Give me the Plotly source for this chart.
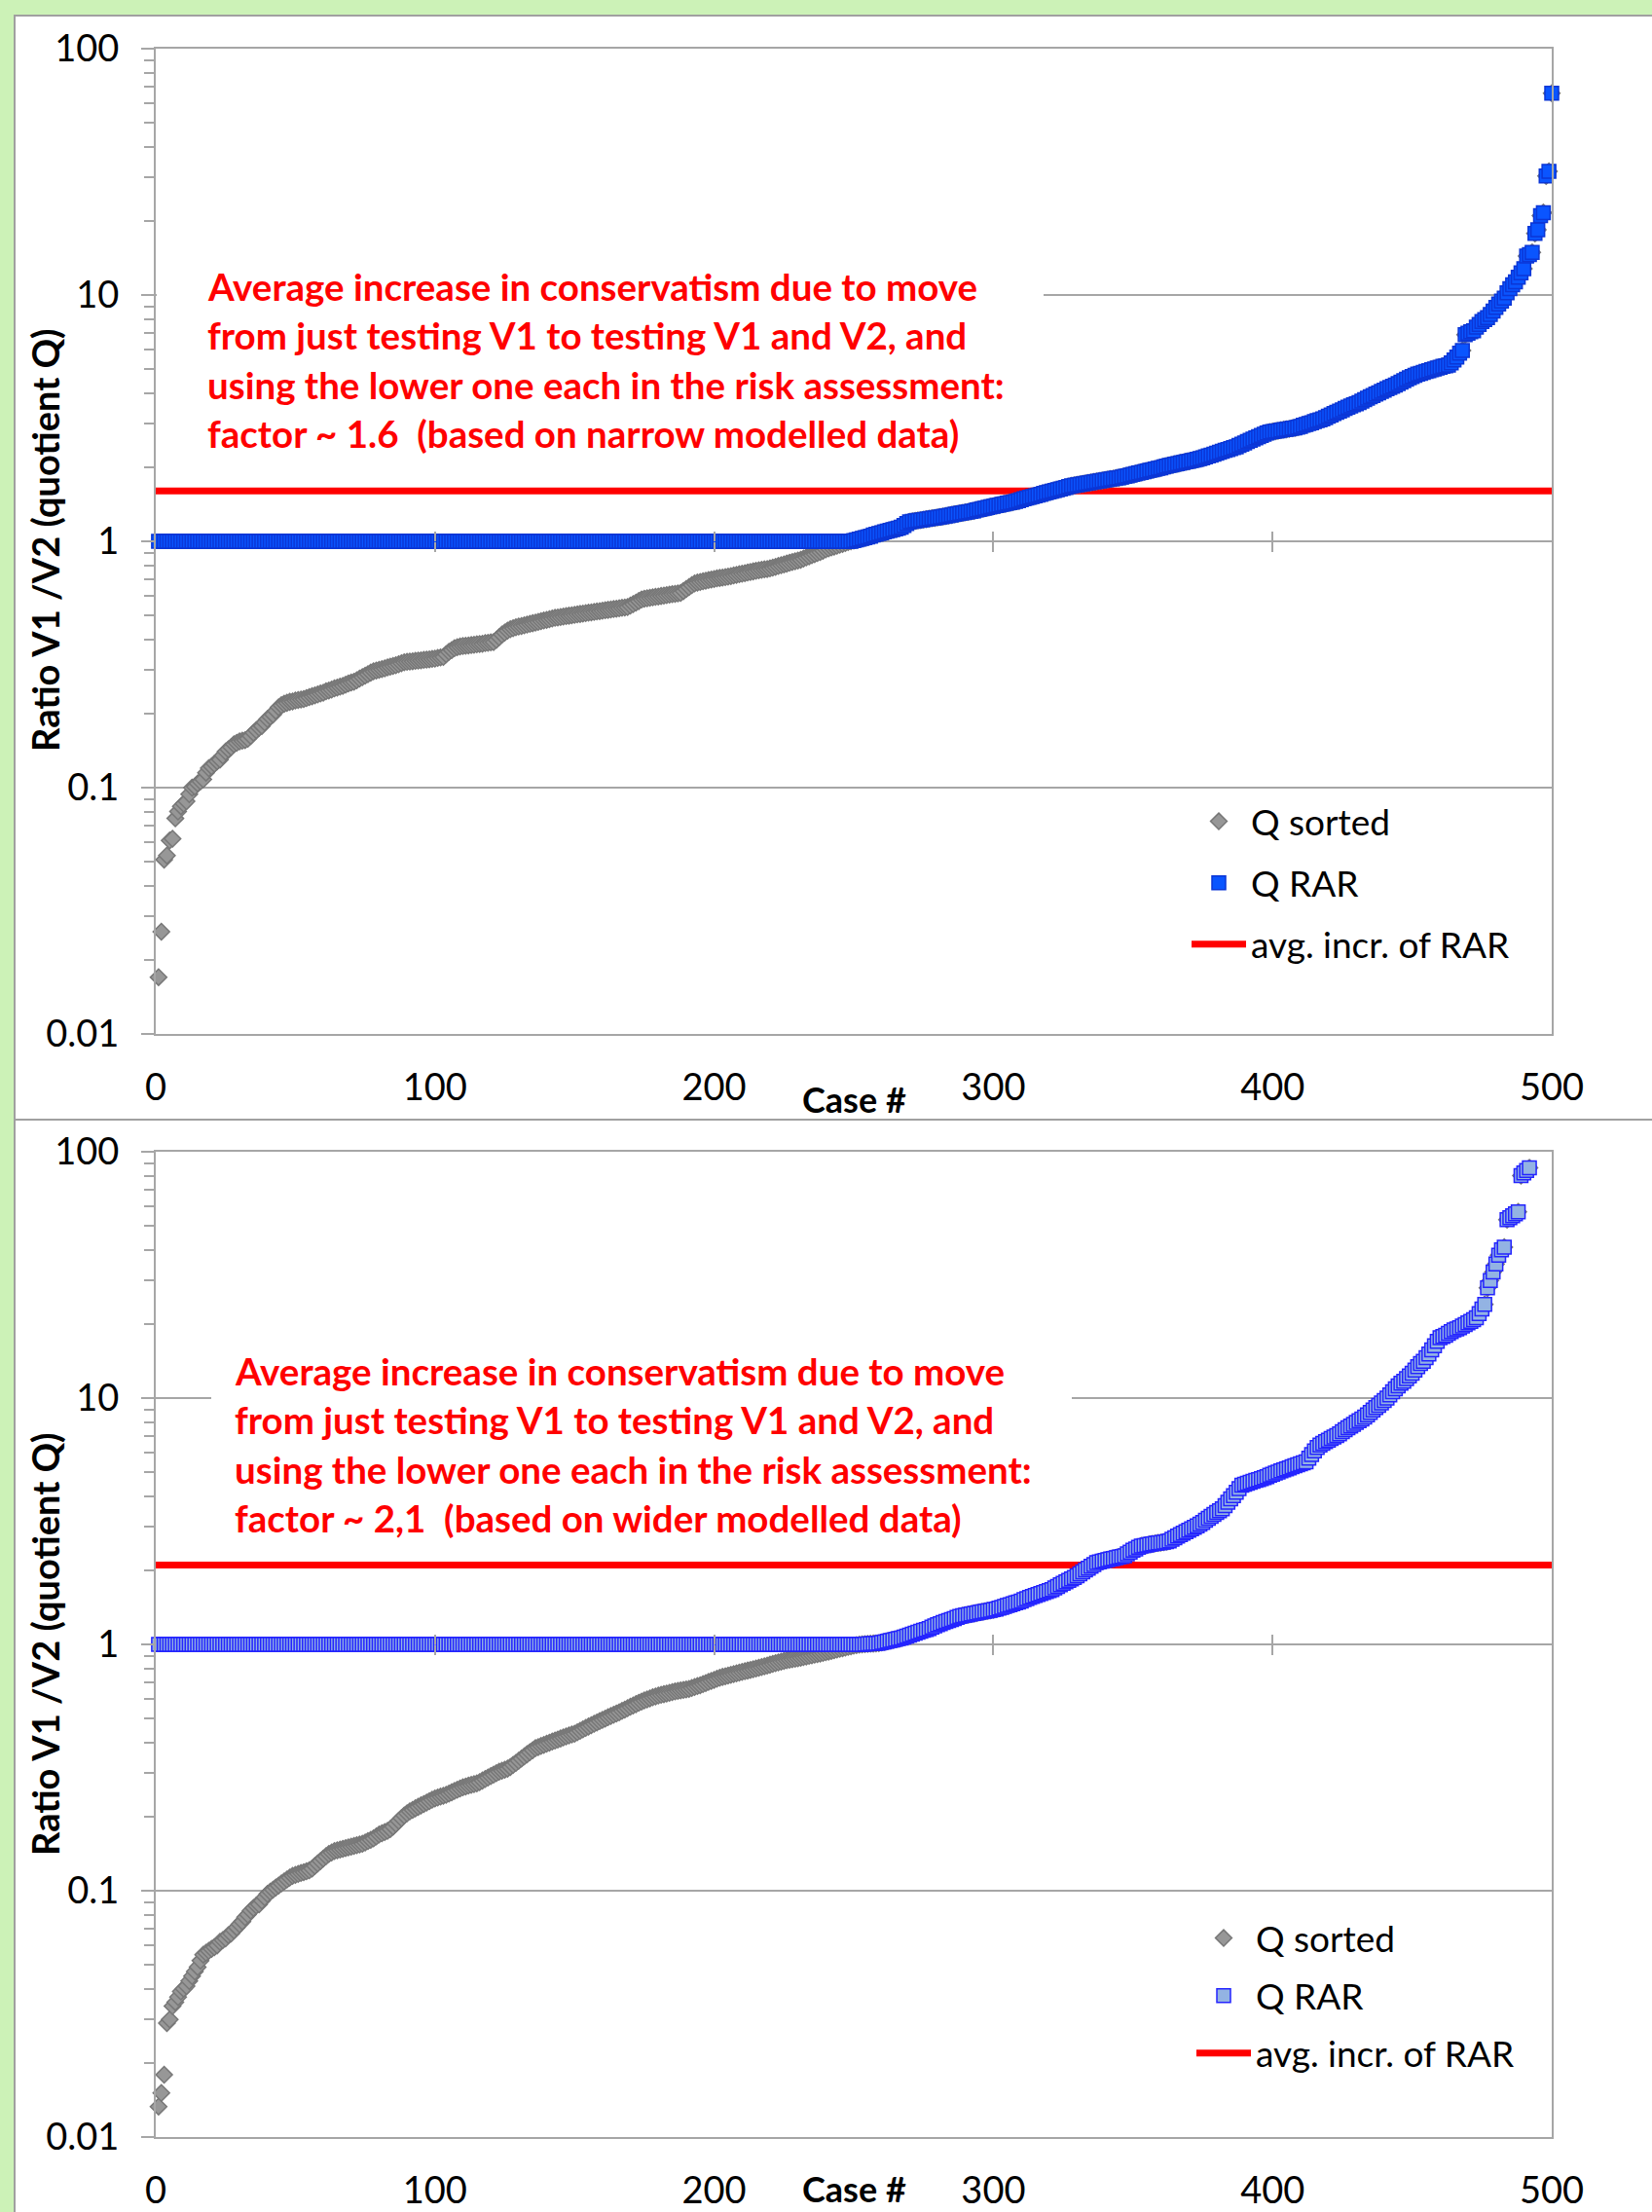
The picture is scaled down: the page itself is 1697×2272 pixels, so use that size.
import plotly.graph_objects as go

W, H = 1697, 2272

# ---------------- data ----------------
x_ticks = [0, 100, 200, 300, 400, 500]
y_ticks = [0.01, 0.1, 1, 10, 100]
y_ticktext = ["0.01", "0.1", "1", "10", "100"]
legend_names = ["Q sorted", "Q RAR", "avg. incr. of RAR"]

# top chart: Q sorted, cases 1-248 (values below 1)
q_sorted_top_low = [
    0.017, 0.026, 0.051, 0.053, 0.061, 0.062, 0.075, 0.080, 0.084, 0.086,
    0.088, 0.094, 0.100, 0.101, 0.104, 0.106, 0.108, 0.115, 0.120, 0.122,
    0.125, 0.128, 0.130, 0.135, 0.140, 0.143, 0.146, 0.150, 0.152, 0.154,
    0.155, 0.156, 0.158, 0.162, 0.167, 0.171, 0.175, 0.178, 0.184, 0.190,
    0.194, 0.198, 0.205, 0.212, 0.216, 0.219, 0.221, 0.223, 0.224, 0.226,
    0.227, 0.228, 0.229, 0.231, 0.233, 0.235, 0.237, 0.239, 0.241, 0.243,
    0.246, 0.248, 0.250, 0.253, 0.255, 0.257, 0.259, 0.262, 0.265, 0.267,
    0.269, 0.273, 0.277, 0.281, 0.285, 0.289, 0.293, 0.297, 0.299, 0.301,
    0.303, 0.305, 0.308, 0.310, 0.312, 0.314, 0.317, 0.320, 0.323, 0.324,
    0.325, 0.326, 0.327, 0.328, 0.329, 0.330, 0.331, 0.332, 0.333, 0.334,
    0.336, 0.338, 0.339, 0.348, 0.356, 0.362, 0.368, 0.372, 0.374, 0.376,
    0.377, 0.378, 0.379, 0.380, 0.382, 0.383, 0.384, 0.386, 0.387, 0.389,
    0.390, 0.398, 0.408, 0.418, 0.426, 0.434, 0.440, 0.444, 0.448, 0.451,
    0.453, 0.456, 0.459, 0.462, 0.465, 0.468, 0.471, 0.474, 0.477, 0.480,
    0.483, 0.486, 0.489, 0.491, 0.493, 0.495, 0.497, 0.499, 0.501, 0.503,
    0.505, 0.507, 0.509, 0.511, 0.513, 0.515, 0.517, 0.519, 0.521, 0.523,
    0.525, 0.527, 0.529, 0.531, 0.533, 0.535, 0.537, 0.539, 0.541, 0.548,
    0.556, 0.564, 0.572, 0.580, 0.585, 0.587, 0.590, 0.592, 0.595, 0.597,
    0.600, 0.602, 0.605, 0.607, 0.610, 0.612, 0.615, 0.617, 0.628, 0.640,
    0.652, 0.664, 0.674, 0.680, 0.684, 0.688, 0.692, 0.696, 0.700, 0.703,
    0.707, 0.710, 0.713, 0.716, 0.719, 0.723, 0.727, 0.731, 0.735, 0.739,
    0.743, 0.747, 0.751, 0.755, 0.759, 0.763, 0.766, 0.769, 0.772, 0.776,
    0.782, 0.788, 0.794, 0.800, 0.806, 0.812, 0.818, 0.824, 0.830, 0.836,
    0.842, 0.851, 0.860, 0.869, 0.878, 0.887, 0.896, 0.905, 0.916, 0.928,
    0.936, 0.944, 0.952, 0.960, 0.968, 0.976, 0.984, 0.993,
]
# top chart: Q RAR flat at 1, cases 1-248
q_rar_top_flat = [
    1, 1, 1, 1, 1, 1, 1, 1, 1, 1, 1, 1, 1, 1, 1, 1, 1, 1, 1, 1, 1, 1, 1, 1, 1,
    1, 1, 1, 1, 1, 1, 1, 1, 1, 1, 1, 1, 1, 1, 1, 1, 1, 1, 1, 1, 1, 1, 1, 1, 1,
    1, 1, 1, 1, 1, 1, 1, 1, 1, 1, 1, 1, 1, 1, 1, 1, 1, 1, 1, 1, 1, 1, 1, 1, 1,
    1, 1, 1, 1, 1, 1, 1, 1, 1, 1, 1, 1, 1, 1, 1, 1, 1, 1, 1, 1, 1, 1, 1, 1, 1,
    1, 1, 1, 1, 1, 1, 1, 1, 1, 1, 1, 1, 1, 1, 1, 1, 1, 1, 1, 1, 1, 1, 1, 1, 1,
    1, 1, 1, 1, 1, 1, 1, 1, 1, 1, 1, 1, 1, 1, 1, 1, 1, 1, 1, 1, 1, 1, 1, 1, 1,
    1, 1, 1, 1, 1, 1, 1, 1, 1, 1, 1, 1, 1, 1, 1, 1, 1, 1, 1, 1, 1, 1, 1, 1, 1,
    1, 1, 1, 1, 1, 1, 1, 1, 1, 1, 1, 1, 1, 1, 1, 1, 1, 1, 1, 1, 1, 1, 1, 1, 1,
    1, 1, 1, 1, 1, 1, 1, 1, 1, 1, 1, 1, 1, 1, 1, 1, 1, 1, 1, 1, 1, 1, 1, 1, 1,
    1, 1, 1, 1, 1, 1, 1, 1, 1, 1, 1, 1, 1, 1, 1, 1, 1, 1, 1, 1, 1, 1, 1,
]
# top chart: cases 249-500 (Q sorted == Q RAR, values >= 1)
q_top_high = [
    1.000, 1.007, 1.014, 1.021, 1.028, 1.035, 1.042, 1.050, 1.060,
    1.068, 1.076, 1.084, 1.092, 1.100, 1.108, 1.116, 1.124, 1.132, 1.140, 1.160, 1.180, 1.200,
    1.205, 1.210, 1.215, 1.220, 1.225, 1.230, 1.235, 1.240, 1.245, 1.250, 1.256, 1.262,
    1.268, 1.274, 1.280, 1.286, 1.292, 1.298, 1.304, 1.310, 1.316, 1.322, 1.330, 1.340,
    1.348, 1.356, 1.364, 1.372, 1.380, 1.388, 1.396, 1.404, 1.412, 1.420, 1.428, 1.436,
    1.444, 1.453, 1.462, 1.475, 1.490,
    1.500, 1.510, 1.520, 1.531, 1.542, 1.553, 1.564, 1.575, 1.586, 1.597, 1.608, 1.619,
    1.630, 1.642, 1.654, 1.667, 1.680,
    1.688, 1.696, 1.704, 1.712, 1.720, 1.728, 1.736, 1.744, 1.752, 1.760, 1.768, 1.776,
    1.784, 1.792, 1.800, 1.805, 1.810,
    1.822, 1.834, 1.846, 1.858, 1.870, 1.882, 1.894, 1.906, 1.918, 1.930, 1.942, 1.954,
    1.966, 1.978, 1.990, 2.005, 2.020,
    2.032, 2.044, 2.056, 2.068, 2.080, 2.092, 2.104, 2.116, 2.128, 2.140, 2.152, 2.166, 2.180,
    2.20, 2.22, 2.24, 2.26, 2.28, 2.30, 2.32, 2.34, 2.36, 2.38, 2.40, 2.42,
    2.45, 2.48, 2.51, 2.54, 2.57, 2.60, 2.63, 2.66, 2.69, 2.72, 2.75, 2.78,
    2.79, 2.80, 2.81, 2.83, 2.84, 2.85, 2.86, 2.88, 2.89, 2.91,
    2.93, 2.96, 2.98, 3.01, 3.03, 3.06, 3.09, 3.11, 3.14,
    3.18, 3.22, 3.26, 3.30, 3.34, 3.38, 3.42, 3.46, 3.50, 3.54, 3.58, 3.62, 3.66,
    3.71, 3.76, 3.81, 3.86, 3.91, 3.96, 4.01, 4.06, 4.11, 4.16, 4.21, 4.26,
    4.31, 4.37, 4.43, 4.49, 4.55, 4.61, 4.67, 4.72, 4.77, 4.81,
    4.85, 4.89, 4.93, 4.97, 5.01, 5.05, 5.09, 5.13, 5.16, 5.19,
    5.30, 5.45, 5.60, 5.80, 5.95,
    6.90, 7.00, 7.10, 7.15,
    7.40, 7.60, 7.80, 7.95, 8.10, 8.33,
    8.6, 8.9, 9.2, 9.45, 9.7,
    10.2, 10.6, 11.0, 11.3,
    11.8, 12.3, 12.8,
    14.4, 14.6, 14.9,
    17.8, 18.4,
    21.0, 21.6,
    30.4, 31.8,
    66.0,
]
avg_top = 1.6

# bottom chart: Q sorted, cases 1-252 (values below 1)
q_sorted_bot_low = [
    0.0133, 0.0151, 0.0179, 0.029, 0.030, 0.034, 0.0353, 0.037, 0.039, 0.040,
    0.041, 0.043, 0.045, 0.047, 0.049, 0.052, 0.055, 0.056, 0.057, 0.058,
    0.059, 0.060, 0.062, 0.063, 0.064, 0.066, 0.067, 0.069, 0.071, 0.073,
    0.075, 0.078, 0.080, 0.083, 0.085, 0.087, 0.088, 0.091, 0.094, 0.097,
    0.099, 0.101, 0.103, 0.105, 0.107, 0.109, 0.111, 0.113, 0.115, 0.116,
    0.117, 0.118, 0.119, 0.120, 0.121, 0.123, 0.126, 0.129, 0.132, 0.135,
    0.138, 0.141, 0.143, 0.145, 0.146, 0.147, 0.148, 0.149, 0.150, 0.151,
    0.152, 0.153, 0.154, 0.155, 0.157, 0.159, 0.161, 0.163, 0.166, 0.169,
    0.171, 0.173, 0.175, 0.178, 0.182, 0.187, 0.192, 0.197, 0.202, 0.206,
    0.210, 0.213, 0.216, 0.219, 0.222, 0.225, 0.228, 0.231, 0.234, 0.237,
    0.239, 0.241, 0.243, 0.245, 0.248, 0.251, 0.254, 0.257, 0.260, 0.263,
    0.265, 0.267, 0.269, 0.271, 0.273, 0.276, 0.280, 0.284, 0.288, 0.292,
    0.296, 0.300, 0.304, 0.307, 0.310, 0.313, 0.318, 0.324, 0.330, 0.337,
    0.344, 0.351, 0.358, 0.365, 0.372, 0.379, 0.383, 0.387, 0.391, 0.395,
    0.399, 0.403, 0.407, 0.411, 0.415, 0.419, 0.423, 0.427, 0.431, 0.434,
    0.440, 0.446, 0.452, 0.458, 0.464, 0.470, 0.476, 0.482, 0.488, 0.494,
    0.500, 0.506, 0.512, 0.518, 0.524, 0.530, 0.537, 0.544, 0.551, 0.558,
    0.565, 0.572, 0.579, 0.586, 0.592, 0.598, 0.604, 0.610, 0.615, 0.620,
    0.624, 0.628, 0.632, 0.636, 0.640, 0.644, 0.647, 0.650, 0.653, 0.656,
    0.660, 0.665, 0.671, 0.677, 0.683, 0.690, 0.697, 0.704, 0.711, 0.718,
    0.725, 0.732, 0.738, 0.743, 0.748, 0.753, 0.758, 0.763, 0.768, 0.773,
    0.778, 0.783, 0.788, 0.793, 0.798, 0.803, 0.809, 0.815, 0.821, 0.827,
    0.833, 0.839, 0.845, 0.851, 0.857, 0.862, 0.866, 0.870, 0.874, 0.878,
    0.883, 0.888, 0.893, 0.898, 0.903, 0.908, 0.913, 0.918, 0.923, 0.929,
    0.935, 0.941, 0.947, 0.953, 0.959, 0.965, 0.971, 0.977, 0.983, 0.989,
    0.994, 0.998,
]
# bottom chart: Q RAR flat at 1, cases 1-252
q_rar_bot_flat = [
    1, 1, 1, 1, 1, 1, 1, 1, 1, 1, 1, 1, 1, 1, 1, 1, 1, 1, 1, 1, 1, 1, 1, 1, 1,
    1, 1, 1, 1, 1, 1, 1, 1, 1, 1, 1, 1, 1, 1, 1, 1, 1, 1, 1, 1, 1, 1, 1, 1, 1,
    1, 1, 1, 1, 1, 1, 1, 1, 1, 1, 1, 1, 1, 1, 1, 1, 1, 1, 1, 1, 1, 1, 1, 1, 1,
    1, 1, 1, 1, 1, 1, 1, 1, 1, 1, 1, 1, 1, 1, 1, 1, 1, 1, 1, 1, 1, 1, 1, 1, 1,
    1, 1, 1, 1, 1, 1, 1, 1, 1, 1, 1, 1, 1, 1, 1, 1, 1, 1, 1, 1, 1, 1, 1, 1, 1,
    1, 1, 1, 1, 1, 1, 1, 1, 1, 1, 1, 1, 1, 1, 1, 1, 1, 1, 1, 1, 1, 1, 1, 1, 1,
    1, 1, 1, 1, 1, 1, 1, 1, 1, 1, 1, 1, 1, 1, 1, 1, 1, 1, 1, 1, 1, 1, 1, 1, 1,
    1, 1, 1, 1, 1, 1, 1, 1, 1, 1, 1, 1, 1, 1, 1, 1, 1, 1, 1, 1, 1, 1, 1, 1, 1,
    1, 1, 1, 1, 1, 1, 1, 1, 1, 1, 1, 1, 1, 1, 1, 1, 1, 1, 1, 1, 1, 1, 1, 1, 1,
    1, 1, 1, 1, 1, 1, 1, 1, 1, 1, 1, 1, 1, 1, 1, 1, 1, 1, 1, 1, 1, 1, 1, 1, 1,
    1, 1,
]
# bottom chart: cases 253-492 (Q sorted == Q RAR, values >= 1)
q_bot_high = [
    1.000, 1.002, 1.004, 1.006, 1.008, 1.010, 1.012,
    1.018, 1.024, 1.030, 1.036, 1.042, 1.048, 1.055, 1.062, 1.070, 1.080,
    1.090, 1.100, 1.110, 1.120, 1.130, 1.140, 1.150, 1.160, 1.175, 1.190,
    1.202, 1.214, 1.226, 1.238, 1.250, 1.262, 1.274, 1.287, 1.300,
    1.307, 1.314, 1.321, 1.328, 1.335, 1.342, 1.349, 1.356, 1.363, 1.370, 1.376, 1.383, 1.390,
    1.402, 1.414, 1.426, 1.438, 1.450, 1.462, 1.474, 1.486, 1.500, 1.520,
    1.535, 1.550, 1.565, 1.580, 1.595, 1.610, 1.625, 1.640, 1.655, 1.670,
    1.695, 1.720, 1.745, 1.770, 1.795, 1.820, 1.845, 1.870, 1.900,
    1.935, 1.970, 2.005, 2.040, 2.075, 2.110, 2.150,
    2.164, 2.178, 2.192, 2.206, 2.220, 2.234, 2.248, 2.262, 2.276, 2.290,
    2.33, 2.37, 2.41, 2.44, 2.48, 2.51,
    2.52, 2.53, 2.55, 2.56, 2.57, 2.58, 2.59, 2.60, 2.61, 2.63,
    2.67, 2.71, 2.75, 2.79, 2.83, 2.87, 2.91, 2.95, 2.99, 3.03,
    3.08, 3.13, 3.19, 3.25, 3.31, 3.37, 3.43, 3.49, 3.55,
    3.66, 3.78, 3.90, 4.02, 4.15, 4.29, 4.43,
    4.47, 4.51, 4.55, 4.59, 4.63, 4.67, 4.71, 4.75, 4.80, 4.86,
    4.91, 4.96, 5.01, 5.06, 5.11, 5.16, 5.21, 5.26, 5.31, 5.36, 5.41, 5.46, 5.51,
    5.70, 5.90, 6.10, 6.30, 6.45,
    6.55, 6.65, 6.75, 6.85, 6.95, 7.05, 7.15, 7.31,
    7.44, 7.57, 7.70, 7.83, 7.96, 8.09, 8.22, 8.38, 8.55,
    8.75, 8.95, 9.15, 9.35, 9.55, 9.78, 10.0,
    10.3, 10.6, 10.9, 11.2, 11.5, 11.7,
    12.0, 12.3, 12.6, 13.0, 13.4, 13.8, 14.1,
    14.6, 15.1, 15.7, 16.3, 17.0, 17.6,
    17.8, 18.0, 18.3, 18.6, 18.9, 19.1, 19.3,
    19.6, 19.9, 20.2, 20.5, 20.8, 21.2,
    22.0, 23.0, 24.0,
    28.0, 30.0, 32.5, 35.0,
    38.0, 40.0, 41.0,
    53.0, 54.0, 55.0,
    56.0, 57.0,
    80.0, 82.0,
    84.0, 86.0,
]
avg_bot = 2.1

note_top = [
    "Average increase in conservatism due to move",
    "from just testing V1 to testing V1 and V2, and",
    "using the lower one each in the risk assessment:",
    "factor ~ 1.6  (based on narrow modelled data)",
]
note_bot = [
    "Average increase in conservatism due to move",
    "from just testing V1 to testing V1 and V2, and",
    "using the lower one each in the risk assessment:",
    "factor ~ 2,1  (based on wider modelled data)",
]
y_title = "Ratio V1 /V2 (quotient Q)"
x_title = "Case #"

# series
q_sorted_top = q_sorted_top_low + q_top_high
q_rar_top = q_rar_top_flat + q_top_high
cases_top = list(range(1, len(q_sorted_top) + 1))
q_sorted_bot = q_sorted_bot_low + q_bot_high
q_rar_bot = q_rar_bot_flat + q_bot_high
cases_bot = list(range(1, len(q_sorted_bot) + 1))

# ---------------- styling ----------------
FONT = "Lato"
GRID = "#a6a6a6"
GREEN = "#ccf2b7"
PANEL_LINE = "#a0a0a0"


def px_x(p):
    return p / W


def px_y(p):
    return 1 - p / H


XDOM = [px_x(160), px_x(1594)]
YDOM_TOP = [px_y(1062), px_y(50)]
YDOM_BOT = [px_y(2195), px_y(1183)]

fig = go.Figure()

gray_marker = dict(symbol="diamond", size=13, color="#979797",
                   line=dict(color="#777777", width=1.5))
blue_marker_top = dict(symbol="square", size=14, color="#0a55ff",
                       line=dict(color="#0b36d6", width=1.5))
blue_marker_bot = dict(symbol="square", size=14, color="#93b3e3",
                       line=dict(color="#2424ff", width=1.5))

for (xa, ya, leg, cases, qs, qr, avg, bmark) in [
    ("x", "y", "legend", cases_top, q_sorted_top, q_rar_top, avg_top, blue_marker_top),
    ("x2", "y2", "legend2", cases_bot, q_sorted_bot, q_rar_bot, avg_bot, blue_marker_bot),
]:
    fig.add_trace(go.Scatter(
        x=[x_ticks[0], x_ticks[-1]], y=[avg, avg], mode="lines",
        line=dict(color="#ff0000", width=7), name=legend_names[2],
        xaxis=xa, yaxis=ya, legend=leg, legendgroup=leg + "c", legendrank=3,
        hoverinfo="skip"))
    fig.add_trace(go.Scatter(
        x=cases, y=qs, mode="markers", marker=gray_marker, name=legend_names[0],
        xaxis=xa, yaxis=ya, legend=leg, legendgroup=leg + "a", legendrank=1,
        cliponaxis=False))
    fig.add_trace(go.Scatter(
        x=cases, y=qr, mode="markers", marker=bmark, name=legend_names[1],
        xaxis=xa, yaxis=ya, legend=leg, legendgroup=leg + "b", legendrank=2,
        cliponaxis=False))

# empty helper traces so the tick-only cross axes (at y = 1) get drawn
for xa, ya in [("x3", "y"), ("x4", "y"), ("x5", "y2"), ("x6", "y2")]:
    fig.add_trace(go.Scatter(x=[], y=[], mode="markers", xaxis=xa, yaxis=ya,
                             showlegend=False, hoverinfo="skip"))

tickfont = dict(family=FONT, size=38, color="black")


def x_axis(anchor):
    return dict(domain=XDOM, range=[x_ticks[0], x_ticks[-1]], tickmode="array",
                tickvals=x_ticks, ticks="", showgrid=False, zeroline=False,
                showline=True, mirror=True, linecolor=GRID, linewidth=2,
                tickfont=tickfont, ticklabelstandoff=20, anchor=anchor,
                automargin=False)


def y_axis(dom, anchor):
    return dict(domain=dom, type="log", range=[-2, 2], tickmode="array",
                tickvals=y_ticks, ticktext=y_ticktext, ticks="outside",
                ticklen=13, tickwidth=1.5, tickcolor=GRID, showgrid=True,
                gridcolor=GRID, gridwidth=1.5, zeroline=False, showline=True,
                mirror=True, linecolor=GRID, linewidth=2, tickfont=tickfont,
                ticklabelstandoff=15, anchor=anchor, automargin=False,
                minor=dict(ticks="outside", ticklen=10, tickwidth=1.5,
                           tickcolor=GRID, dtick="D1", showgrid=False))


def cross_axis(overlay, pos, side):
    return dict(overlaying=overlay, anchor="free", position=pos, side=side,
                range=[x_ticks[0], x_ticks[-1]], tickmode="array",
                tickvals=x_ticks[1:-1], ticks="outside", ticklen=10,
                tickwidth=1.5, tickcolor=GRID, showticklabels=False,
                showgrid=False, zeroline=False, showline=False,
                automargin=False)


mid_top = (YDOM_TOP[0] + YDOM_TOP[1]) / 2
mid_bot = (YDOM_BOT[0] + YDOM_BOT[1]) / 2

legend_font = dict(family=FONT, size=37, color="black")
layout = dict(
    width=W, height=H, margin=dict(l=0, r=0, t=0, b=0),
    paper_bgcolor=GREEN, plot_bgcolor="white",
    xaxis=x_axis("y"), yaxis=y_axis(YDOM_TOP, "x"),
    xaxis2=x_axis("y2"), yaxis2=y_axis(YDOM_BOT, "x2"),
    xaxis3=cross_axis("x", mid_top, "bottom"),
    xaxis4=cross_axis("x", mid_top, "top"),
    xaxis5=cross_axis("x2", mid_bot, "bottom"),
    xaxis6=cross_axis("x2", mid_bot, "top"),
    legend=dict(x=px_x(1219), y=px_y(813), xanchor="left", yanchor="top",
                font=legend_font, bgcolor="rgba(0,0,0,0)",
                traceorder="grouped", tracegroupgap=12, itemwidth=56),
    legend2=dict(x=px_x(1224), y=px_y(1960), xanchor="left", yanchor="top",
                 font=legend_font, bgcolor="rgba(0,0,0,0)",
                 traceorder="grouped", tracegroupgap=8, itemwidth=56),
    showlegend=True,
)
fig.update_layout(**layout)

# panels
fig.add_shape(type="rect", xref="paper", yref="paper", x0=px_x(15), x1=1.02,
              y0=px_y(1150), y1=px_y(16), fillcolor="white",
              line=dict(color=PANEL_LINE, width=2), layer="below")
fig.add_shape(type="rect", xref="paper", yref="paper", x0=px_x(15), x1=1.02,
              y0=-0.02, y1=px_y(1150), fillcolor="white",
              line=dict(color=PANEL_LINE, width=2), layer="below")

# white text boxes (hide the gridline behind the notes)
fig.add_shape(type="rect", xref="paper", yref="paper", x0=px_x(161),
              x1=px_x(1072), y0=px_y(470), y1=px_y(262), fillcolor="white",
              line=dict(width=0), layer="above")
fig.add_shape(type="rect", xref="paper", yref="paper", x0=px_x(217),
              x1=px_x(1101), y0=px_y(1585), y1=px_y(1380), fillcolor="white",
              line=dict(width=0), layer="above")

note_font = dict(family=FONT, size=38.5, color="#ff0000", weight="bold")
for i, line in enumerate(note_top):
    fig.add_annotation(text=line, xref="paper", yref="paper", x=px_x(211),
                       y=px_y(294 + 50.3 * i), xanchor="left", yanchor="middle",
                       showarrow=False, font=note_font)
for i, line in enumerate(note_bot):
    fig.add_annotation(text=line, xref="paper", yref="paper", x=px_x(239),
                       y=px_y(1408 + 50.3 * i), xanchor="left", yanchor="middle",
                       showarrow=False, font=note_font)

ytitle_font = dict(family=FONT, size=38, color="black", weight="bold")
xtitle_font = dict(family=FONT, size=36, color="black", weight="bold")
for yc in [555, 1689]:
    fig.add_annotation(text=y_title, xref="paper", yref="paper", x=px_x(46),
                       y=px_y(yc), textangle=-90, xanchor="center",
                       yanchor="middle", showarrow=False, font=ytitle_font)
for yc in [1129, 2248]:
    fig.add_annotation(text=x_title, xref="paper", yref="paper", x=px_x(877),
                       y=px_y(yc), xanchor="center", yanchor="middle",
                       showarrow=False, font=xtitle_font)

fig.write_html(
    "out.html",
    config={"displayModeBar": False},
    post_script="document.body.style.margin='0px';"
                "document.body.style.background='" + GREEN + "';",
)
